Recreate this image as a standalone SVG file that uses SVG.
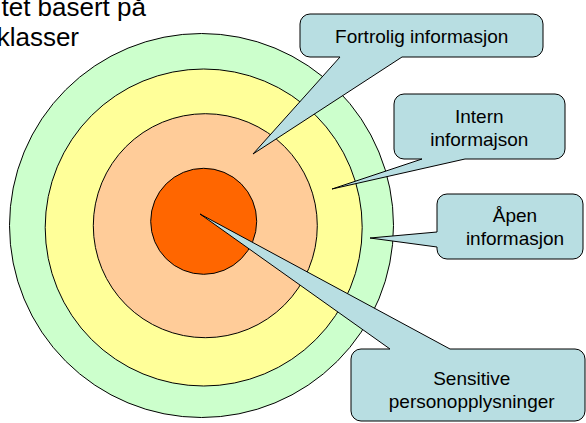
<svg xmlns="http://www.w3.org/2000/svg" width="586" height="423" viewBox="0 0 586 423">
<style>
.ring{stroke:#000;stroke-width:1}
.call{fill:#B8DEE2;stroke:#000;stroke-width:1;stroke-linejoin:miter}
.lbl{font-family:"Liberation Sans",Arial,sans-serif;font-size:19px;fill:#000;text-anchor:middle}
.title{font-family:"Liberation Sans",Arial,sans-serif;font-size:26px;fill:#000;text-anchor:end}
</style>
<rect width="586" height="423" fill="#fff"/>
<g id="title">
<text class="title" x="146" y="16">tet basert på</text>
<text class="title" x="79" y="46">klasser</text>
</g>
<g id="rings">
<circle id="ring-open" class="ring" cx="201.5" cy="225.5" r="192" fill="#CCFFCC"/>
<circle id="ring-internal" class="ring" cx="203.7" cy="227.5" r="158.5" fill="#FFFF99"/>
<circle id="ring-confidential" class="ring" cx="205.3" cy="225.7" r="112" fill="#FFCC99"/>
<circle id="ring-sensitive" class="ring" cx="203.7" cy="221.3" r="53" fill="#FF6600"/>
</g>
<g id="connectors"></g>
<g id="callout-fortrolig">
<path class="call" d="M310,14 H533 A10,10 0 0 1 543,24 V47 A10,10 0 0 1 533,57 H402 L253,154 L340,57 H310 A10,10 0 0 1 300,47 V24 A10,10 0 0 1 310,14 Z"/>
<text class="lbl" x="421.7" y="42.7">Fortrolig informasjon</text>
</g>
<g id="callout-intern">
<path class="call" d="M404,94 H555 A10,10 0 0 1 565,104 V149 A10,10 0 0 1 555,159 H465 L332,189 L422,159 H404 A10,10 0 0 1 394,149 V104 A10,10 0 0 1 404,94 Z"/>
<text class="lbl" x="479.3" y="123.3">Intern</text>
<text class="lbl" x="479.3" y="145.7">informajson</text>
</g>
<g id="callout-apen">
<path class="call" d="M447,194 H573 A10,10 0 0 1 583,204 V249 A10,10 0 0 1 573,259 H447 A10,10 0 0 1 437,249 V247 L370,238 L437,232 V204 A10,10 0 0 1 447,194 Z"/>
<text class="lbl" x="515" y="221.7">Åpen</text>
<text class="lbl" x="515" y="245">informasjon</text>
</g>
<g id="callout-sensitive">
<path class="call" d="M361,349 H390 L200,214 L450,349 H575 A10,10 0 0 1 585,359 V411 A10,10 0 0 1 575,421 H361 A10,10 0 0 1 351,411 V359 A10,10 0 0 1 361,349 Z"/>
<text class="lbl" x="471.7" y="385">Sensitive</text>
<text class="lbl" x="471.7" y="408.3">personopplysninger</text>
</g>
</svg>
